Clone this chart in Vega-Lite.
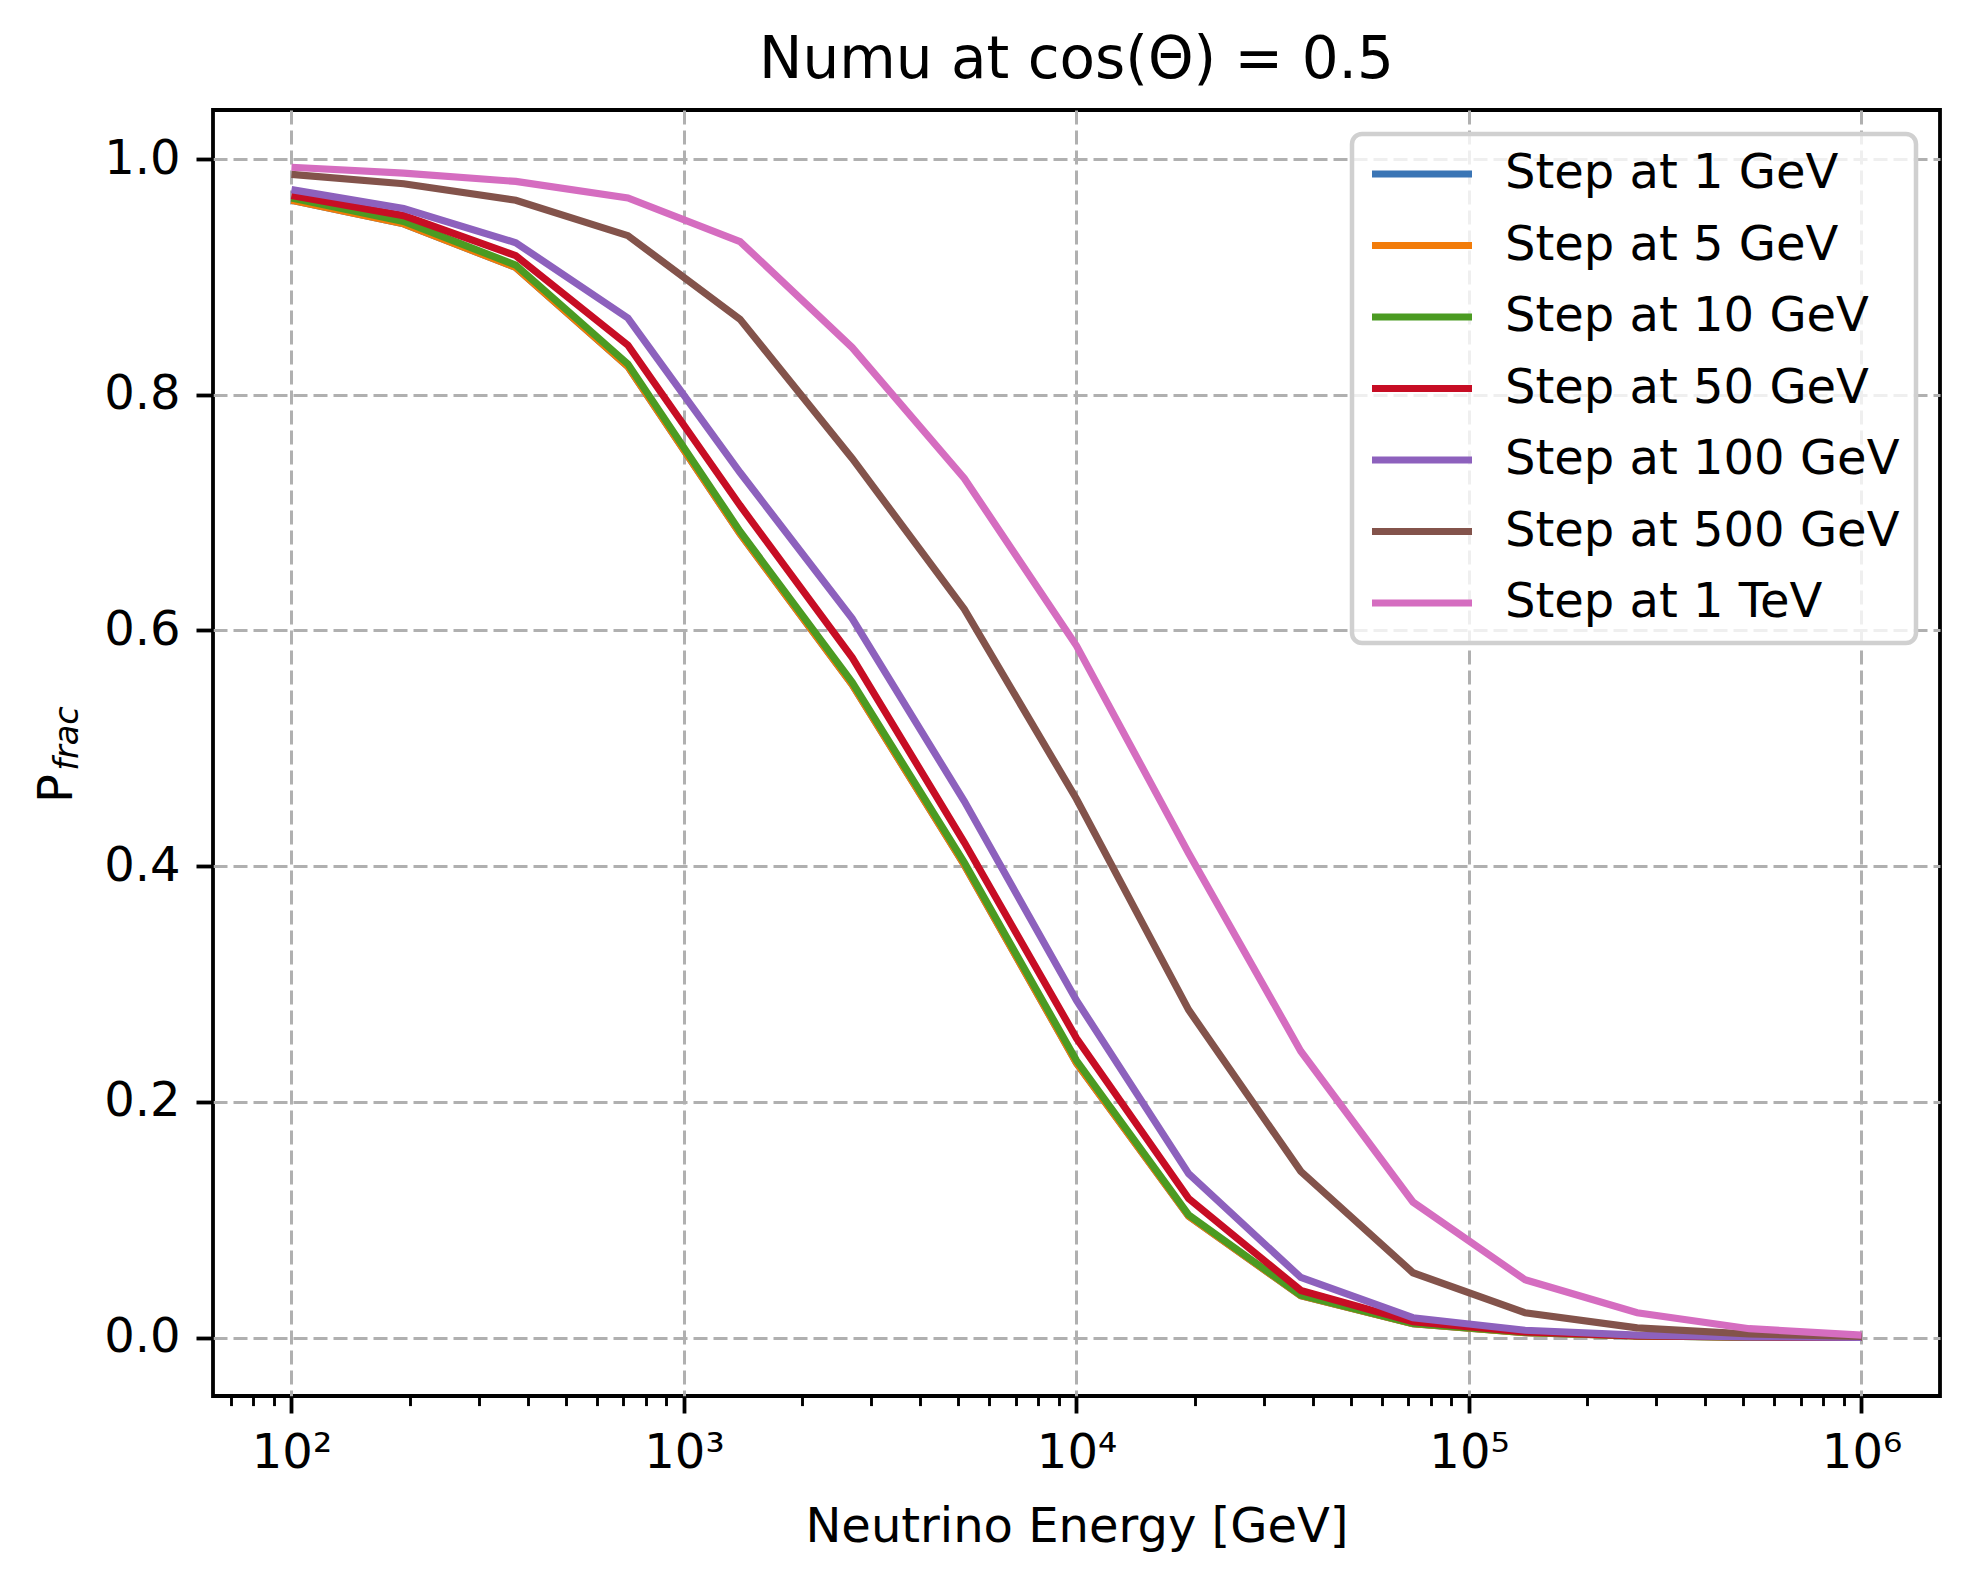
{
  "$schema": "https://vega.github.io/schema/vega-lite/v6.json",
  "width": 1727,
  "height": 1286,
  "autosize": {"type": "none"},
  "padding": {"left": 213, "top": 110, "right": 28, "bottom": 175},
  "background": "white",
  "title": {"text": "Numu at cos(Θ) = 0.5", "fontSize": 58, "font": "DejaVu Sans", "fontWeight": "normal", "color": "black", "offset": 20, "baseline": "top", "anchor": "middle"},
  "config": {
    "view": {"stroke": "black", "strokeWidth": 3.8},
    "font": "DejaVu Sans",
    "axis": {
      "domain": false,
      "tickColor": "black", "tickWidth": 3.8, "tickSize": 17,
      "labelFont": "DejaVu Sans", "labelFontSize": 48, "labelColor": "black", "labelPadding": 16,
      "titleFont": "DejaVu Sans", "titleFontSize": 48, "titleColor": "black", "titleFontWeight": "normal",
      "gridColor": "#b0b0b0", "gridWidth": 3, "gridDash": [14, 6]
    }
  },
  "data": {"values": [
    {"E": 100, "P": 0.965, "series": "Step at 1 GeV"},
    {"E": 193.07, "P": 0.945, "series": "Step at 1 GeV"},
    {"E": 372.76, "P": 0.908, "series": "Step at 1 GeV"},
    {"E": 719.69, "P": 0.824, "series": "Step at 1 GeV"},
    {"E": 1389.5, "P": 0.682, "series": "Step at 1 GeV"},
    {"E": 2682.7, "P": 0.554, "series": "Step at 1 GeV"},
    {"E": 5179.5, "P": 0.401, "series": "Step at 1 GeV"},
    {"E": 10000, "P": 0.233, "series": "Step at 1 GeV"},
    {"E": 19307, "P": 0.103, "series": "Step at 1 GeV"},
    {"E": 37276, "P": 0.0355, "series": "Step at 1 GeV"},
    {"E": 71969, "P": 0.0117, "series": "Step at 1 GeV"},
    {"E": 138950, "P": 0.0042, "series": "Step at 1 GeV"},
    {"E": 268270, "P": 0.0013, "series": "Step at 1 GeV"},
    {"E": 517947, "P": 0.0004, "series": "Step at 1 GeV"},
    {"E": 1000000, "P": 0.0001, "series": "Step at 1 GeV"},

    {"E": 100, "P": 0.965, "series": "Step at 5 GeV"},
    {"E": 193.07, "P": 0.945, "series": "Step at 5 GeV"},
    {"E": 372.76, "P": 0.908, "series": "Step at 5 GeV"},
    {"E": 719.69, "P": 0.824, "series": "Step at 5 GeV"},
    {"E": 1389.5, "P": 0.682, "series": "Step at 5 GeV"},
    {"E": 2682.7, "P": 0.554, "series": "Step at 5 GeV"},
    {"E": 5179.5, "P": 0.401, "series": "Step at 5 GeV"},
    {"E": 10000, "P": 0.233, "series": "Step at 5 GeV"},
    {"E": 19307, "P": 0.103, "series": "Step at 5 GeV"},
    {"E": 37276, "P": 0.0355, "series": "Step at 5 GeV"},
    {"E": 71969, "P": 0.0117, "series": "Step at 5 GeV"},
    {"E": 138950, "P": 0.0042, "series": "Step at 5 GeV"},
    {"E": 268270, "P": 0.0013, "series": "Step at 5 GeV"},
    {"E": 517947, "P": 0.0004, "series": "Step at 5 GeV"},
    {"E": 1000000, "P": 0.0001, "series": "Step at 5 GeV"},

    {"E": 100, "P": 0.967, "series": "Step at 10 GeV"},
    {"E": 193.07, "P": 0.947, "series": "Step at 10 GeV"},
    {"E": 372.76, "P": 0.910, "series": "Step at 10 GeV"},
    {"E": 719.69, "P": 0.826, "series": "Step at 10 GeV"},
    {"E": 1389.5, "P": 0.684, "series": "Step at 10 GeV"},
    {"E": 2682.7, "P": 0.556, "series": "Step at 10 GeV"},
    {"E": 5179.5, "P": 0.403, "series": "Step at 10 GeV"},
    {"E": 10000, "P": 0.235, "series": "Step at 10 GeV"},
    {"E": 19307, "P": 0.104, "series": "Step at 10 GeV"},
    {"E": 37276, "P": 0.036, "series": "Step at 10 GeV"},
    {"E": 71969, "P": 0.012, "series": "Step at 10 GeV"},
    {"E": 138950, "P": 0.0043, "series": "Step at 10 GeV"},
    {"E": 268270, "P": 0.0013, "series": "Step at 10 GeV"},
    {"E": 517947, "P": 0.0004, "series": "Step at 10 GeV"},
    {"E": 1000000, "P": 0.0001, "series": "Step at 10 GeV"},

    {"E": 100, "P": 0.969, "series": "Step at 50 GeV"},
    {"E": 193.07, "P": 0.952, "series": "Step at 50 GeV"},
    {"E": 372.76, "P": 0.918, "series": "Step at 50 GeV"},
    {"E": 719.69, "P": 0.842, "series": "Step at 50 GeV"},
    {"E": 1389.5, "P": 0.706, "series": "Step at 50 GeV"},
    {"E": 2682.7, "P": 0.577, "series": "Step at 50 GeV"},
    {"E": 5179.5, "P": 0.420, "series": "Step at 50 GeV"},
    {"E": 10000, "P": 0.254, "series": "Step at 50 GeV"},
    {"E": 19307, "P": 0.118, "series": "Step at 50 GeV"},
    {"E": 37276, "P": 0.040, "series": "Step at 50 GeV"},
    {"E": 71969, "P": 0.0135, "series": "Step at 50 GeV"},
    {"E": 138950, "P": 0.0048, "series": "Step at 50 GeV"},
    {"E": 268270, "P": 0.0015, "series": "Step at 50 GeV"},
    {"E": 517947, "P": 0.0005, "series": "Step at 50 GeV"},
    {"E": 1000000, "P": 0.0001, "series": "Step at 50 GeV"},

    {"E": 100, "P": 0.974, "series": "Step at 100 GeV"},
    {"E": 193.07, "P": 0.958, "series": "Step at 100 GeV"},
    {"E": 372.76, "P": 0.929, "series": "Step at 100 GeV"},
    {"E": 719.69, "P": 0.865, "series": "Step at 100 GeV"},
    {"E": 1389.5, "P": 0.734, "series": "Step at 100 GeV"},
    {"E": 2682.7, "P": 0.610, "series": "Step at 100 GeV"},
    {"E": 5179.5, "P": 0.455, "series": "Step at 100 GeV"},
    {"E": 10000, "P": 0.286, "series": "Step at 100 GeV"},
    {"E": 19307, "P": 0.139, "series": "Step at 100 GeV"},
    {"E": 37276, "P": 0.051, "series": "Step at 100 GeV"},
    {"E": 71969, "P": 0.0168, "series": "Step at 100 GeV"},
    {"E": 138950, "P": 0.0062, "series": "Step at 100 GeV"},
    {"E": 268270, "P": 0.002, "series": "Step at 100 GeV"},
    {"E": 517947, "P": 0.0006, "series": "Step at 100 GeV"},
    {"E": 1000000, "P": 0.0002, "series": "Step at 100 GeV"},

    {"E": 100, "P": 0.987, "series": "Step at 500 GeV"},
    {"E": 193.07, "P": 0.979, "series": "Step at 500 GeV"},
    {"E": 372.76, "P": 0.965, "series": "Step at 500 GeV"},
    {"E": 719.69, "P": 0.935, "series": "Step at 500 GeV"},
    {"E": 1389.5, "P": 0.864, "series": "Step at 500 GeV"},
    {"E": 2682.7, "P": 0.746, "series": "Step at 500 GeV"},
    {"E": 5179.5, "P": 0.618, "series": "Step at 500 GeV"},
    {"E": 10000, "P": 0.457, "series": "Step at 500 GeV"},
    {"E": 19307, "P": 0.278, "series": "Step at 500 GeV"},
    {"E": 37276, "P": 0.141, "series": "Step at 500 GeV"},
    {"E": 71969, "P": 0.055, "series": "Step at 500 GeV"},
    {"E": 138950, "P": 0.021, "series": "Step at 500 GeV"},
    {"E": 268270, "P": 0.0082, "series": "Step at 500 GeV"},
    {"E": 517947, "P": 0.003, "series": "Step at 500 GeV"},
    {"E": 1000000, "P": 0.001, "series": "Step at 500 GeV"},

    {"E": 100, "P": 0.993, "series": "Step at 1 TeV"},
    {"E": 193.07, "P": 0.988, "series": "Step at 1 TeV"},
    {"E": 372.76, "P": 0.981, "series": "Step at 1 TeV"},
    {"E": 719.69, "P": 0.967, "series": "Step at 1 TeV"},
    {"E": 1389.5, "P": 0.930, "series": "Step at 1 TeV"},
    {"E": 2682.7, "P": 0.840, "series": "Step at 1 TeV"},
    {"E": 5179.5, "P": 0.729, "series": "Step at 1 TeV"},
    {"E": 10000, "P": 0.587, "series": "Step at 1 TeV"},
    {"E": 19307, "P": 0.411, "series": "Step at 1 TeV"},
    {"E": 37276, "P": 0.243, "series": "Step at 1 TeV"},
    {"E": 71969, "P": 0.115, "series": "Step at 1 TeV"},
    {"E": 138950, "P": 0.049, "series": "Step at 1 TeV"},
    {"E": 268270, "P": 0.021, "series": "Step at 1 TeV"},
    {"E": 517947, "P": 0.0075, "series": "Step at 1 TeV"},
    {"E": 1000000, "P": 0.002, "series": "Step at 1 TeV"}
  ]},
  "encoding": {
    "x": {
      "field": "E", "type": "quantitative",
      "scale": {"type": "log", "domain": [63.1, 1584893], "nice": false},
      "axis": {
        "title": "Neutrino Energy [GeV]",
        "titlePadding": 26,
        "values": [70, 80, 90, 100, 200, 300, 400, 500, 600, 700, 800, 900, 1000, 2000, 3000, 4000, 5000, 6000, 7000, 8000, 9000, 10000, 20000, 30000, 40000, 50000, 60000, 70000, 80000, 90000, 100000, 200000, 300000, 400000, 500000, 600000, 700000, 800000, 900000, 1000000],
        "labelExpr": "datum.value == 100 ? '10²' : datum.value == 1000 ? '10³' : datum.value == 10000 ? '10⁴' : datum.value == 100000 ? '10⁵' : datum.value == 1000000 ? '10⁶' : ''",
        "labelOverlap": false,
        "labelFlush": false,
        "grid": true,
        "gridOpacity": {"condition": {"test": "indexof([100, 1000, 10000, 100000, 1000000], datum.value) >= 0", "value": 1}, "value": 0},
        "tickSize": {"condition": {"test": "indexof([100, 1000, 10000, 100000, 1000000], datum.value) >= 0", "value": 17}, "value": 9.6},
        "tickWidth": {"condition": {"test": "indexof([100, 1000, 10000, 100000, 1000000], datum.value) >= 0", "value": 3.8}, "value": 2.9}
      }
    }
  },
  "layer": [
    {
      "mark": {"type": "line", "strokeWidth": 7.2},
      "encoding": {
        "y": {
          "field": "P", "type": "quantitative",
          "scale": {"domain": [-0.0496, 1.0416], "nice": false, "zero": false},
          "axis": {
            "title": "P",
            "values": [0, 0.2, 0.4, 0.6, 0.8, 1.0],
            "format": ".1f",
            "grid": true,
            "titleAlign": "center",
            "titleY": 678,
            "titleBaseline": "alphabetic",
            "titlePadding": 32
          }
        },
        "color": {
          "field": "series", "type": "nominal",
          "scale": {
            "domain": ["Step at 1 GeV", "Step at 5 GeV", "Step at 10 GeV", "Step at 50 GeV", "Step at 100 GeV", "Step at 500 GeV", "Step at 1 TeV"],
            "range": ["#3a75b5", "#f27c0a", "#4b9b22", "#c70d24", "#8d61bd", "#83534b", "#d56dc0"]
          },
          "legend": {
            "title": null,
            "orient": "top-right",
            "offset": 24,
            "symbolType": "M-1,0H4",
            "symbolSize": 1600,
            "symbolStrokeWidth": 7.2,
            "labelFont": "DejaVu Sans",
            "labelFontSize": 48,
            "labelColor": "black",
            "labelLimit": 1000,
            "labelOffset": 89,
            "rowPadding": 23.5,
            "padding": 16,
            "fillColor": "rgba(255,255,255,0.8)",
            "strokeColor": "#d0d0d0",
            "cornerRadius": 10,
            "encode": {"legend": {"update": {"strokeWidth": {"value": 4.5}}}}
          }
        }
      }
    },
    {
      "mark": {"type": "line", "opacity": 0},
      "encoding": {
        "y": {
          "field": "P", "type": "quantitative",
          "axis": {
            "orient": "left",
            "title": "frac",
            "titleFontSize": 33.6,
            "titleFontStyle": "italic",
            "labels": false,
            "ticks": false,
            "domain": false,
            "grid": false,
            "titleAlign": "center",
            "titleY": 628,
            "titleBaseline": "alphabetic",
            "titlePadding": 136
          }
        },
        "detail": {"field": "series"}
      }
    }
  ],
  "resolve": {"axis": {"y": "independent"}}
}
